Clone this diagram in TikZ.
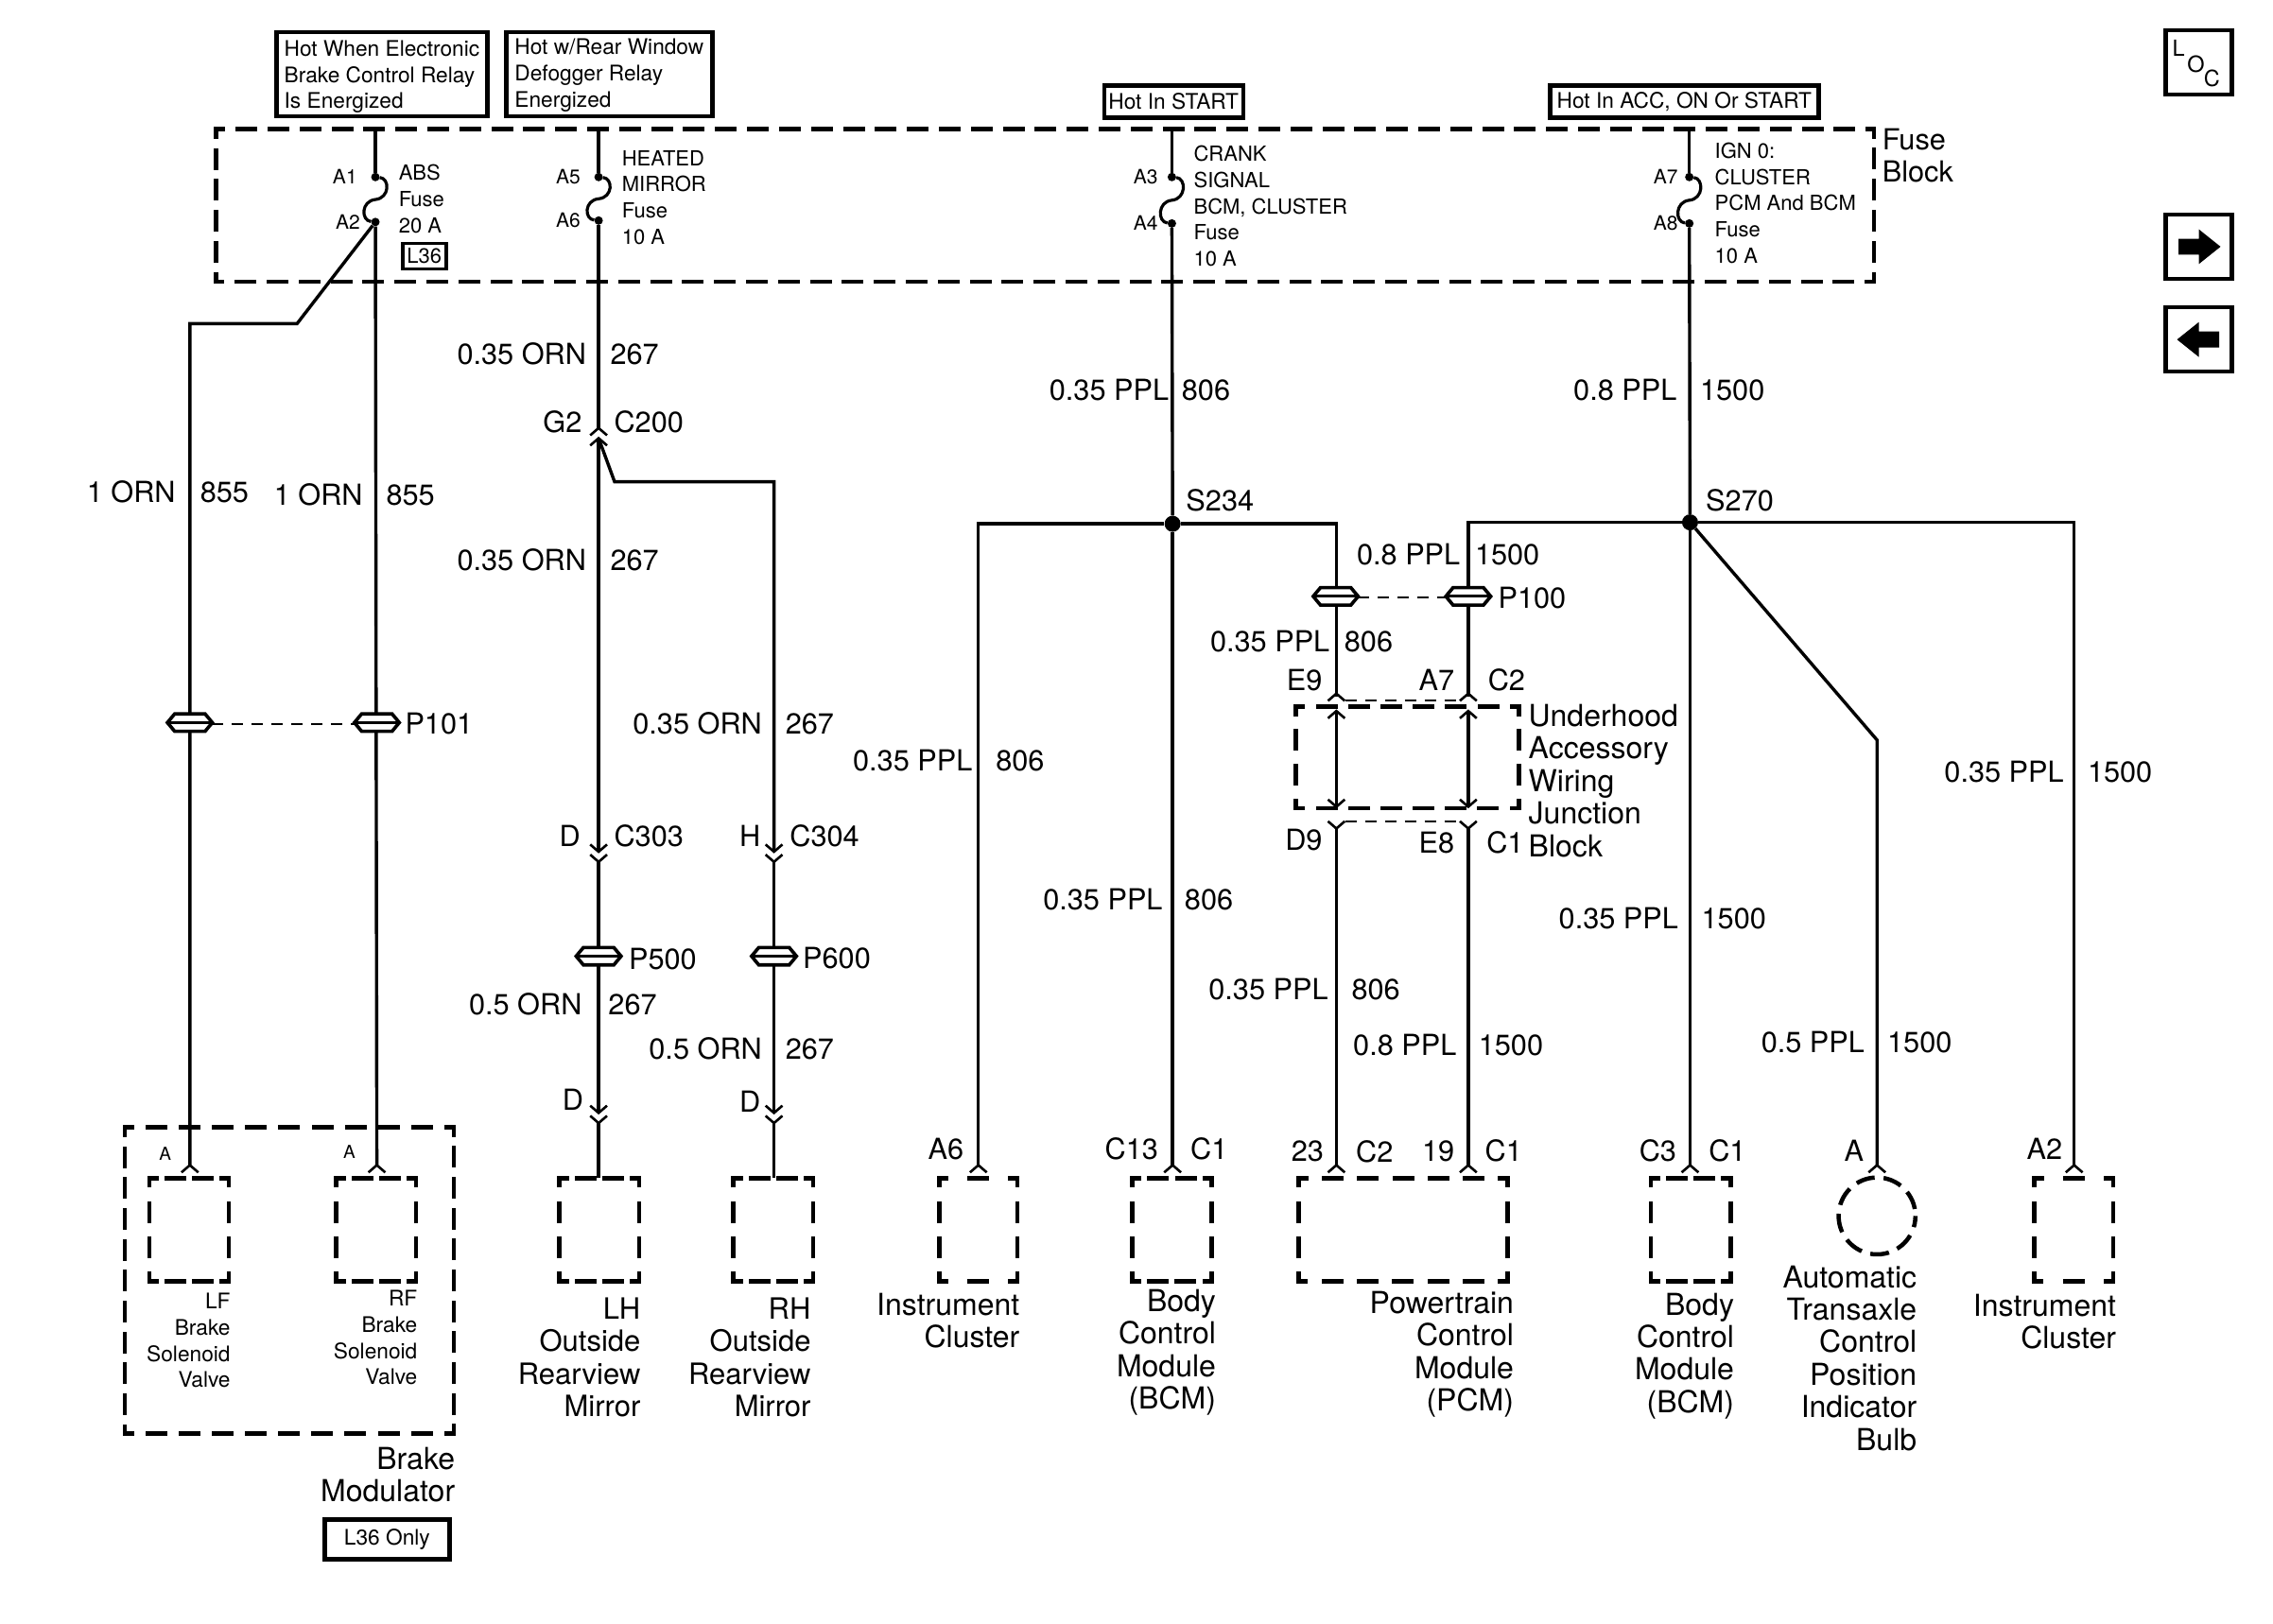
\documentclass[tikz,border=0pt]{standalone}
\usepackage{fontspec}
\setmainfont{TeX Gyre Heros}
\usetikzlibrary{calc}
\def\UPX{1.534}
\def\BoxDash{23}
\def\BoxCorner{10}
\def\BoxLw{4.5}
% one dashed side, with a short dash at each corner
\newcommand{\dside}[5]{%
  \pgfmathsetmacro\SideLen{veclen(#3-#1,#4-#2)*\UPX}%
  \pgfmathsetmacro\SideNum{floor((\SideLen-2*\BoxCorner+#5)/(\BoxDash+#5))}%
  \pgfmathsetmacro\SideGap{(\SideLen-2*\BoxCorner-\SideNum*\BoxDash)/(\SideNum+1)}%
  \pgfmathsetmacro\SideOn{\BoxDash-\BoxLw}%
  \pgfmathsetmacro\SideOff{\SideGap+\BoxLw}%
  \pgfmathsetmacro\SidePhase{\SideOn-\BoxCorner+\BoxLw/2}%
  \draw[line width=\BoxLw pt,line cap=rect,dash pattern=on \SideOn pt off \SideOff pt,dash phase=\SidePhase pt] (#1,#2) -- (#3,#4);%
}
\newcommand{\dbox}[5]{%
  \dside{#1}{#2}{#3}{#2}{#5}\dside{#3}{#2}{#3}{#4}{#5}\dside{#3}{#4}{#1}{#4}{#5}\dside{#1}{#4}{#1}{#2}{#5}%
}
\newcommand{\chevU}[2]{\draw[chev] (#1-5.8,#2+5) -- (#1,#2) -- (#1+5.8,#2+5);}
\newcommand{\chevD}[2]{\draw[chev] (#1-5.8,#2-5) -- (#1,#2) -- (#1+5.8,#2-5);}
\newcommand{\pconn}[2]{%
  \draw[fill=white,line width=3.6pt,line join=miter] (#1-15.5,#2) -- (#1-10.5,#2-6) -- (#1+10.5,#2-6) -- (#1+15.5,#2) -- (#1+10.5,#2+6) -- (#1-10.5,#2+6) -- cycle;
  \draw[line width=3pt] (#1-15,#2) -- (#1+15,#2);}
\newcommand{\fusecurve}[2]{\draw[line width=3.2pt] (#1) .. controls +(10,1) and +(10,-1) .. ($(#1)!.5!(#2)$) .. controls +(-10,1) and +(-10,-1) .. (#2);}
\tikzset{
  wire/.style={line width=3.4pt,line join=miter},
  chev/.style={line width=2.6pt,line join=miter},
  thin dash/.style={line width=2pt,dash pattern=on 12pt off 9pt},
  solid box/.style={draw,line width=4.5pt,inner sep=0pt},
  big/.style={font=\fontsize{30.7}{34.4}\selectfont,inner sep=0pt},
  comp/.style={font=\fontsize{32}{34.4}\selectfont,inner sep=0pt},
  mirr/.style={font=\fontsize{31}{34.4}\selectfont,inner sep=0pt},
  small/.style={font=\fontsize{22.7}{27.7}\selectfont,inner sep=0pt},
  fuset/.style={font=\fontsize{22}{27.7}\selectfont,inner sep=0pt},
  tiny/.style={font=\fontsize{21}{22}\selectfont,inner sep=0pt},
  lab/.style={big,text height=22pt,text depth=0pt},
  lt/.style={lab,anchor=east},
  rt/.style={lab,anchor=west},
  fs/.style={tiny,text height=15pt,text depth=0pt,anchor=east},
  fusedot/.style={circle,fill,inner sep=0pt,minimum size=9pt},
  splice/.style={circle,fill,inner sep=0pt,minimum size=17pt},
}
\begin{document}
\begin{tikzpicture}[x=1.533pt,y=-1.535pt]
\useasboundingbox (0,0) rectangle (1568.2,1119.2);
% ---------- boxes
\dbox{149}{89}{1293}{194}{11}
\dbox{86}{777}{313}{988}{11}
\dbox{103}{812}{158}{883}{18}
\dbox{232}{812}{287}{883}{18}
\dbox{386}{812}{441}{883}{18}
\dbox{506}{812}{561}{883}{18}
\dbox{648}{812}{702}{883}{18}
\dbox{781}{812}{836}{883}{18}
\dbox{896}{812}{1040}{883}{18}
\dbox{1139}{812}{1194}{883}{18}
\dbox{1403.5}{812}{1458}{883}{18}
\dbox{894}{487}{1048}{557}{11}
\draw[line width=\BoxLw pt,dash pattern=on 20pt off 9.5pt,dash phase=8pt] (1295,838) circle (26.5);
% ---------- junction nodes
\node[fusedot] (a1) at (259,122) {};
\node[fusedot] (a2) at (259,153) {};
\node[fusedot] (a5) at (413,122) {};
\node[fusedot] (a6) at (413,152) {};
\node[fusedot] (a3) at (808.5,122) {};
\node[fusedot] (a4) at (808.5,154) {};
\node[fusedot] (a7) at (1165.5,122) {};
\node[fusedot] (a8) at (1165.5,154) {};
\node[splice] (s234) at (809,361) {};
\node[splice] (s270) at (1166,360) {};
\coordinate (absT) at (259,89);
\coordinate (htdT) at (413,89);
\coordinate (crkT) at (808.5,89);
\coordinate (ignT) at (1165.5,89);
\coordinate (lfKa) at (205,223);
\coordinate (lfKb) at (131,223);
\coordinate (lfEnd) at (131,803);
\coordinate (rfEnd) at (260,803);
\coordinate (g2) at (413,295);
\coordinate (g2b) at (413,302);
\coordinate (rK1) at (424,332);
\coordinate (rK2) at (534,332);
\coordinate (c303) at (413,587);
\coordinate (c303b) at (413,594);
\coordinate (c304) at (534,587);
\coordinate (c304b) at (534,594);
\coordinate (dL) at (413,767);
\coordinate (dLb) at (413,774);
\coordinate (dR) at (534,767);
\coordinate (dRb) at (534,774);
\coordinate (lhT) at (413,812);
\coordinate (rhT) at (534,812);
\coordinate (bL) at (675,361);
\coordinate (bR) at (922,361);
\coordinate (icEnd) at (675,803);
\coordinate (bcmEnd) at (809,803);
\coordinate (e9) at (922,480);
\coordinate (e9b) at (922,490);
\coordinate (d9a) at (922,555);
\coordinate (d9) at (922,571);
\coordinate (pcm1) at (922,803);
\coordinate (cL) at (1013,360);
\coordinate (cR) at (1431,360);
\coordinate (c2) at (1013,480);
\coordinate (c2b) at (1013,490);
\coordinate (c1a) at (1013,555);
\coordinate (c1) at (1013,571);
\coordinate (pcm2) at (1013,803);
\coordinate (bcm2End) at (1166,803);
\coordinate (blbK) at (1295,510);
\coordinate (blbEnd) at (1295,803);
\coordinate (ic2End) at (1431,803);
% ---------- wires
\draw[wire] (absT) -- (a1);
\draw[wire] (a2) -- (rfEnd);
\draw[wire] (a2) -- (lfKa) -- (lfKb) -- (lfEnd);
\draw[wire] (htdT) -- (a5);
\draw[wire] (a6) -- (g2);
\draw[wire] (g2b) -- (c303);
\draw[wire] (g2b) -- (rK1) -- (rK2) -- (c304);
\draw[wire] (c303b) -- (dL);
\draw[wire] (c304b) -- (dR);
\draw[wire] (dLb) -- (lhT);
\draw[wire] (dRb) -- (rhT);
\draw[wire] (crkT) -- (a3);
\draw[wire] (a4) -- (s234);
\draw[wire] (s234) -- (bL) -- (icEnd);
\draw[wire] (s234) -- (bcmEnd);
\draw[wire] (s234) -- (bR) -- (e9);
\draw[wire] (e9b) -- (d9a);
\draw[wire] (d9) -- (pcm1);
\draw[wire] (ignT) -- (a7);
\draw[wire] (a8) -- (s270);
\draw[wire] (s270) -- (cL) -- (c2);
\draw[wire] (s270) -- (cR) -- (ic2End);
\draw[wire] (s270) -- (bcm2End);
\draw[wire] (s270) -- (blbK) -- (blbEnd);
\draw[wire] (c2b) -- (c1a);
\draw[wire] (c1) -- (pcm2);
\fusecurve{a1}{a2}
\fusecurve{a5}{a6}
\fusecurve{a3}{a4}
\fusecurve{a7}{a8}
% ---------- chevrons
\chevU{131}{803}\chevU{260}{803}
\chevU{413}{295}\chevU{413}{302}
\chevD{413}{587}\chevD{413}{594}
\chevD{534}{587}\chevD{534}{594}
\chevD{413}{767}\chevD{413}{774}
\chevD{534}{767}\chevD{534}{774}
\chevU{675}{803}\chevU{809}{803}\chevU{922}{803}\chevU{1013}{803}
\chevU{1166}{803}\chevU{1295}{803}\chevU{1431}{803}
\chevU{922}{478}\chevU{1013}{478}
\chevU{922}{490}\chevU{1013}{490}
\chevD{922}{556}\chevD{1013}{556}
\chevD{922}{571}\chevD{1013}{571}
% ---------- pass-through connectors
\coordinate (p101a) at (146,499);
\coordinate (p101b) at (245,499);
\coordinate (p100a) at (937,412);
\coordinate (p100b) at (998,412);
\coordinate (ua) at (928,483);
\coordinate (ub) at (1007,483);
\coordinate (la) at (928,566);
\coordinate (lb) at (1007,566);
\draw[thin dash] (p101a) -- (p101b);
\draw[thin dash] (p100a) -- (p100b);
\draw[thin dash] (ua) -- (ub);
\draw[thin dash] (la) -- (lb);
\pconn{131}{498}\pconn{260}{498}
\pconn{413}{659}\pconn{534}{659}
\pconn{921.5}{411}\pconn{1013}{411}
% ---------- header boxes
\node[solid box,minimum width=223pt,minimum height=89pt] (hb1) at (263.5,51) {};
\node[small,align=left,anchor=west] (hb1t) at (196,53) {Hot When Electronic\\Brake Control Relay\\Is Energized};
\node[solid box,minimum width=218pt,minimum height=89pt] (hb2) at (420.5,51) {};
\node[small,align=left,anchor=west] (hb2t) at (355,52) {Hot w/Rear Window\\Defogger Relay\\Energized};
\node[solid box,small,minimum width=147pt,minimum height=34pt] (hb3) at (809.7,70) {Hot In START};
\node[solid box,small,minimum width=284pt,minimum height=34pt] (hb4) at (1162,70) {Hot In ACC, ON Or START};
% ---------- fuse labels
\node[fs] (tA1) at (246.5,122) {A1};
\node[fs] (tA2) at (248.5,153) {A2};
\node[fs] (tA5) at (400.6,122) {A5};
\node[fs] (tA6) at (400.6,152) {A6};
\node[fs] (tA3) at (799,122) {A3};
\node[fs] (tA4) at (799,154) {A4};
\node[fs] (tA7) at (1157.7,122) {A7};
\node[fs] (tA8) at (1157.7,154) {A8};
\node[fuset,align=left,anchor=west] (tABS) at (275,137) {ABS\\Fuse\\20 A};
\node[fuset,draw,line width=3.6pt,minimum width=46pt,minimum height=27pt] (tL36) at (292.7,176.5) {L36};
\node[fuset,align=left,anchor=west] (tHM) at (429,136) {HEATED\\MIRROR\\Fuse\\10 A};
\node[fuset,align=left,anchor=west] (tCR) at (823.5,142) {CRANK\\SIGNAL\\BCM, CLUSTER\\Fuse\\10 A};
\node[fuset,align=left,anchor=west] (tIG) at (1183,140) {IGN 0:\\CLUSTER\\PCM And BCM\\Fuse\\10 A};
\node[big,align=left,anchor=west] (tFB) at (1298.5,107) {Fuse\\Block};
% ---------- wire labels
\node[lt] (w1) at (121.2,339) {1 ORN};  \node[rt] (w2) at (138,339) {855};
\node[lt] (w3) at (250.4,341) {1 ORN};  \node[rt] (w4) at (266.4,341) {855};
\node[lt] (w5) at (404.6,244) {0.35 ORN}; \node[rt] (w6) at (421,244) {267};
\node[lt] (w7) at (401.6,291) {G2}; \node[rt] (w8) at (423.6,291) {C200};
\node[lt] (w9) at (404.6,386) {0.35 ORN}; \node[rt] (w10) at (421,386) {267};
\node[lt] (w11) at (525.8,499) {0.35 ORN}; \node[rt] (w12) at (541.8,499) {267};
\node[lt] (w13) at (400.6,576) {D}; \node[rt] (w14) at (423.6,576) {C303};
\node[lt] (w15) at (524.8,576) {H}; \node[rt] (w16) at (544.8,576) {C304};
\node[rt] (w17) at (433.7,661) {P500}; \node[rt] (w18) at (553.8,660) {P600};
\node[lt] (w19) at (401.6,692) {0.5 ORN}; \node[rt] (w20) at (419.6,692) {267};
\node[lt] (w21) at (525.8,723) {0.5 ORN}; \node[rt] (w22) at (541.8,723) {267};
\node[lt] (w23) at (402.6,758) {D}; \node[lt] (w24) at (524.8,759) {D};
\node[rt] (w25) at (279.4,499) {P101};
\node[lt] (w26) at (806.5,269) {0.35 PPL}; \node[rt] (w27) at (815.2,269) {806};
\node[rt] (w28) at (818.2,345) {S234};
\node[lt] (w29) at (671,524) {0.35 PPL}; \node[rt] (w30) at (687,524) {806};
\node[lt] (w31) at (802.2,620) {0.35 PPL}; \node[rt] (w32) at (817.2,620) {806};
\node[rt] (w33) at (1033.5,412) {P100};
\node[lt] (w34) at (917.5,442) {0.35 PPL}; \node[rt] (w35) at (927.4,442) {806};
\node[lt] (w36) at (1007.5,382) {0.8 PPL}; \node[rt] (w37) at (1017.5,382) {1500};
\node[lt] (w38) at (912.4,469) {E9}; \node[lt] (w39) at (1003.5,469) {A7}; \node[rt] (w40) at (1026.5,469) {C2};
\node[lt] (w41) at (912.4,579) {D9}; \node[lt] (w42) at (1003.5,581) {E8}; \node[rt] (w43) at (1025.5,581) {C1};
\node[lt] (w44) at (916.4,682) {0.35 PPL}; \node[rt] (w45) at (932.4,682) {806};
\node[lt] (w46) at (1005,720) {0.8 PPL}; \node[rt] (w47) at (1020,720) {1500};
\node[lt] (w48) at (913.4,793) {23}; \node[rt] (w49) at (935.4,794) {C2};
\node[lt] (w50) at (1003.5,793) {19}; \node[rt] (w51) at (1024.5,793) {C1};
\node[lt] (w52) at (665,792) {A6};
\node[lt] (w53) at (799.2,792) {C13}; \node[rt] (w54) at (821.2,792) {C1};
\node[lt] (w55) at (1156.7,793) {C3}; \node[rt] (w56) at (1178.8,793) {C1};
\node[lt] (w57) at (1286,793) {A}; \node[lt] (w58) at (1423,792) {A2};
\node[lt] (w59) at (1157,269) {0.8 PPL}; \node[rt] (w60) at (1172.8,269) {1500};
\node[rt] (w61) at (1176.8,345) {S270};
\node[lt] (w62) at (1424,532) {0.35 PPL}; \node[rt] (w63) at (1440.2,532) {1500};
\node[lt] (w64) at (1158,633) {0.35 PPL}; \node[rt] (w65) at (1173.8,633) {1500};
\node[lt] (w66) at (1286.5,718) {0.5 PPL}; \node[rt] (w67) at (1302,718) {1500};
\node[inner sep=0pt,font=\fontsize{19}{22}\selectfont] (w68) at (114,795) {A};
\node[inner sep=0pt,font=\fontsize{19}{22}\selectfont] (w69) at (241,794) {A};
% ---------- component labels
\node[comp,align=left,anchor=west] (tUH) at (1054.5,538) {Underhood\\Accessory\\Wiring\\Junction\\Block};
\node[small,align=right,anchor=east] (tLF) at (159,924) {LF\\Brake\\Solenoid\\Valve};
\node[small,align=right,anchor=east] (tRF) at (288,922) {RF\\Brake\\Solenoid\\Valve};
\node[mirr,align=right,anchor=east] (tLH) at (442,935.5) {LH\\Outside\\Rearview\\Mirror};
\node[mirr,align=right,anchor=east] (tRH) at (559.5,935.5) {RH\\Outside\\Rearview\\Mirror};
\node[comp,align=right,anchor=east] (tBM) at (314,1016.5) {Brake\\Modulator};
\node[solid box,small,minimum width=132pt,minimum height=42pt] (tOnly) at (267,1061) {L36 Only};
\node[comp,align=right,anchor=east] (tIC) at (703.5,910) {Instrument\\Cluster};
\node[comp,align=right,anchor=east] (tB1) at (839,932) {Body\\Control\\Module\\(BCM)};
\node[comp,align=right,anchor=east] (tPC) at (1044.5,933.5) {Powertrain\\Control\\Module\\(PCM)};
\node[comp,align=right,anchor=east] (tB2) at (1196.5,934.5) {Body\\Control\\Module\\(BCM)};
\node[comp,align=right,anchor=east] (tBU) at (1322.5,936) {Automatic\\Transaxle\\Control\\Position\\Indicator\\Bulb};
\node[comp,align=right,anchor=east] (tI2) at (1460,911) {Instrument\\Cluster};
% ---------- navigation icons
\node[solid box,minimum width=70pt,minimum height=68pt] (navL) at (1517,43) {};
\node[inner sep=0pt,font=\fontsize{23.5}{24}\selectfont] (tL) at (1503,33) {L};
\node[inner sep=0pt,font=\fontsize{23.5}{24}\selectfont] (tO) at (1515,44) {O};
\node[inner sep=0pt,font=\fontsize{23.5}{24}\selectfont] (tC) at (1526,54) {C};
\node[solid box,minimum width=70pt,minimum height=68pt] (navR) at (1517,170) {};
\node[solid box,minimum width=70pt,minimum height=68pt] (navB) at (1517,234) {};
\fill ($(navR)+(-14,-5.5)$) -- ($(navR)+(0,-5.5)$) -- ($(navR)+(0,-12)$) -- ($(navR)+(15,0)$) -- ($(navR)+(0,12)$) -- ($(navR)+(0,5.5)$) -- ($(navR)+(-14,5.5)$) -- cycle;
\fill ($(navB)+(14,-5.5)$) -- ($(navB)+(0,-5.5)$) -- ($(navB)+(0,-12)$) -- ($(navB)+(-15,0)$) -- ($(navB)+(0,12)$) -- ($(navB)+(0,5.5)$) -- ($(navB)+(14,5.5)$) -- cycle;
\end{tikzpicture}
\end{document}
